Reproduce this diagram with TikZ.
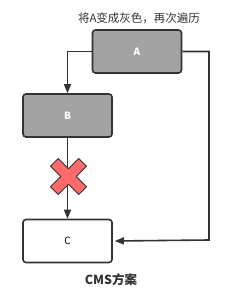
\documentclass[tikz,border=0pt]{standalone}
\usepackage{fontspec}
\setmainfont{Noto Sans CJK SC}
\usetikzlibrary{arrows.meta}
\definecolor{boxgray}{HTML}{A3A3A3}
\definecolor{linedark}{HTML}{333333}
\definecolor{xred}{HTML}{FF6B6B}
\tikzset{
  box/.style={draw=linedark, line width=1.6pt, rounded corners=3pt, minimum width=89pt, minimum height=43pt, inner sep=0pt, font=\fontsize{10}{12}\selectfont},
  graybox/.style={box, fill=boxgray, text=white, font=\bfseries\fontsize{10}{12}\selectfont},
  conn/.style={draw=linedark, line width=1.6pt, -{Triangle[length=9pt,width=7pt]}},
}
\begin{document}
\begin{tikzpicture}[x=1pt,y=-1pt]
\useasboundingbox (0,0) rectangle (226,289);
\node[graybox] (A) at (137,51.5) {A};
\node[graybox] (B) at (67.5,115.5) {B};
\node[box, fill=white] (C) at (67.5,241) {C};
\node[font=\fontsize{11.5}{13}\selectfont, text=linedark] (t) at (139,18) {将A变成灰色，再次遍历};
\node[font=\bfseries\fontsize{12.5}{14}\selectfont, text=linedark] (cap) at (111,280) {CMS方案};
\coordinate (rc) at (209,240);
\draw[conn] (A.west) -| (B.north);
\draw[conn] (A.east) -| (rc) -- ([xshift=2pt]C.east);
\draw[conn] (B.south) -- (C.north);
\begin{scope}[shift={(68.5,176.5)}, rotate=45]
\draw[draw=linedark, fill=xred, line width=1pt, line join=round]
 (-5.5,-20) -- (5.5,-20) -- (5.5,-5.5) -- (20,-5.5) -- (20,5.5) -- (5.5,5.5) -- (5.5,20) -- (-5.5,20) -- (-5.5,5.5) -- (-20,5.5) -- (-20,-5.5) -- (-5.5,-5.5) -- cycle;
\end{scope}
\end{tikzpicture}
\end{document}
